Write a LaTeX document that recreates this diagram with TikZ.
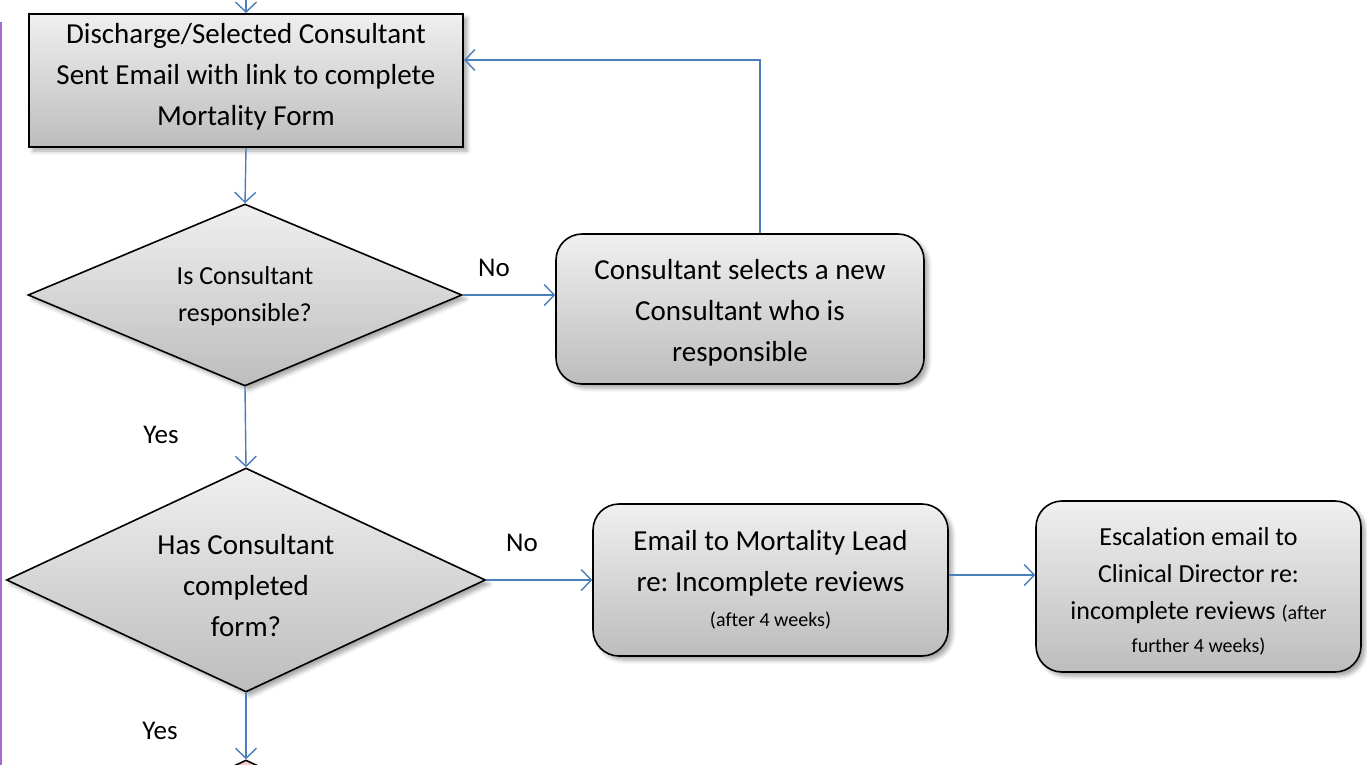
\documentclass[tikz,border=0pt]{standalone}
\usepackage{fontspec}
\setmainfont{Carlito}[Ligatures=CommonOff]
\usetikzlibrary{arrows.meta,shapes.geometric,shadows.blur,calc}
\definecolor{linkblue}{HTML}{4A7EBB}
\definecolor{edgepurple}{HTML}{A36CD0}
\tikzset{
  bigtext/.style={font=\fontsize{29}{41}\selectfont},
  midtext/.style={font=\fontsize{26}{37}\selectfont},
  shade box/.style={draw=black, top color=black!6, bottom color=black!26,
    blur shadow={shadow xshift=4pt, shadow yshift=-4pt, shadow blur radius=4pt, shadow opacity=35},
    align=center, inner sep=0pt},
  squarebox/.style={shade box, rectangle, line width=2pt, bigtext},
  roundbox/.style={shade box, rectangle, rounded corners=26pt, line width=1.6pt},
  decision/.style={shade box, diamond, line width=1.6pt},
  conn/.style={draw=linkblue, line width=1.4pt, -{Straight Barb[length=10pt,width=21pt,line width=1.4pt]}},
  lbl/.style={font=\fontsize{27}{32}\selectfont, inner sep=0pt},
  intext/.style={align=center, inner sep=0pt},
}
\newcommand{\smalltxt}{\fontsize{20}{24}\selectfont}
\frenchspacing
\begin{document}
\begin{tikzpicture}[x=1pt,y=-1pt]
\useasboundingbox (0,0) rectangle (1367,764);
% left purple rule
\draw[edgepurple, line width=2pt] (1,22) -- (1,770);

\node[squarebox, minimum width=434pt, minimum height=133pt,
  label={[intext, bigtext, yshift=4pt]center:Discharge/Selected Consultant\\Sent Email with link to complete\\Mortality Form}] (b1) at (246,80.5) {};

\node[decision, minimum width=434pt, minimum height=182pt,
  label={[intext, midtext, yshift=-1pt]center:Is Consultant\\responsible?}] (d1) at (245,295) {};

\node[roundbox, minimum width=368pt, minimum height=150pt,
  label={[intext, bigtext, yshift=-4pt]center:Consultant selects a new\\Consultant who is\\responsible}] (b2) at (740,309) {};

\node[decision, minimum width=479pt, minimum height=224pt,
  label={[intext, bigtext, yshift=-6pt]center:Has Consultant\\completed\\form?}] (d2) at (246,580) {};

\node[roundbox, minimum width=355pt, minimum height=152pt,
  label={[intext, bigtext]center:Email to Mortality Lead\\re: Incomplete reviews\\[-6pt]{\smalltxt (after 4 weeks)}}] (b3) at (770.5,580) {};

\node[roundbox, minimum width=325pt, minimum height=171pt,
  label={[intext, midtext, yshift=-5pt]center:Escalation email to\\Clinical Director re:\\incomplete reviews {\smalltxt (after}\\[-4pt]{\smalltxt further 4 weeks)}}] (b4) at (1198.5,586.5) {};

\node[draw=black, line width=1.6pt, fill=red!20, diamond, minimum width=479pt, minimum height=224pt] (d3) at (246,872) {};

\coordinate (topin) at (246,-30);

% connectors
\draw[conn] (topin) -- (b1.north);
\draw[conn] (b1.south) -- (d1.north);
\draw[conn] (d1.east) -- (d1.east -| b2.west);
\draw[conn] ([xshift=20pt]b2.north) |- ([yshift=20.5pt]b1.east);
\draw[conn] (d1.south) -- (d2.north);
\draw[conn] (d2.east) -- (b3.west);
\draw[conn] ([yshift=5pt]b3.east) -- ([yshift=5pt]b3.east -| b4.west);
\draw[conn] (d2.south) -- (d3.north);

% labels
\node[lbl] (no1) at (494,268) {No};
\node[lbl] (yes1) at (161,435) {Yes};
\node[lbl] (no2) at (522,543) {No};
\node[lbl] (yes2) at (160,731) {Yes};
\end{tikzpicture}
\end{document}
